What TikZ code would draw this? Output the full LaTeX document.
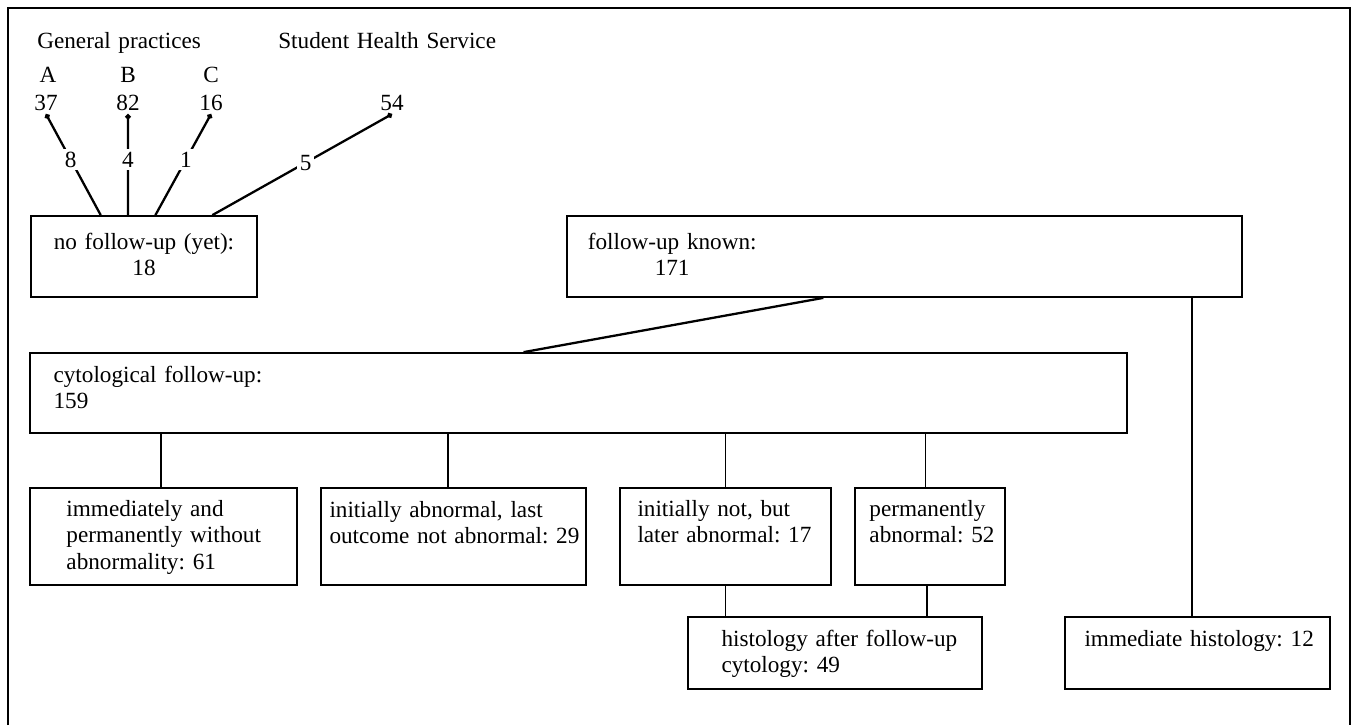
\documentclass[tikz,border=0pt]{standalone}
\usepackage{fontspec}
\setmainfont{Liberation Serif}
\usetikzlibrary{calc,arrows.meta}
\frenchspacing

\begin{document}
\begin{tikzpicture}[x=0.02cm,y=-0.02cm,
		font=\fontsize{13.2}{15.1}\selectfont,
		box/.style={draw,line width=1pt,inner sep=0},
		txt/.style={inner sep=0,anchor=base west,text width=8cm,align=left},
		ctxt/.style={inner sep=0,anchor=base,text width=6cm,align=center},
		link/.style={line width=1pt},
		feed/.style={line width=1.3pt,{Circle[length=3pt]}-},
		num/.style={fill=white,inner sep=1.5pt}]
		\useasboundingbox (0,0) rectangle (1356,725);

		% Frame
		\draw[line width=1pt] (8,725) -- (8,8) -- (1350,8) -- (1350,725);

		% Referring practices
		\node[txt] (gp) at (37,48) {General practices};
		\node[txt] (shs) at (278,48) {Student Health Service};
		\node[anchor=base] (pA) at (48,82) {A};
		\node[anchor=base] (pB) at (128,82) {B};
		\node[anchor=base] (pC) at (211,82) {C};
		\node[anchor=base,inner sep=2pt] (nA) at (46,110) {37};
		\node[anchor=base,inner sep=2pt] (nB) at (128,110) {82};
		\node[anchor=base,inner sep=2pt] (nC) at (211,110) {16};
		\node[anchor=base,inner sep=2pt] (nS) at (392,110) {54};

		% No follow-up / follow-up known
		\node[box,minimum width=4.52cm,minimum height=1.62cm] (nof) at (144,256.5) {};
		\node[ctxt] (nofT) at ($(nof.north)+(0,34)$) {no follow-up (yet):\\18};
		\node[box,minimum width=13.5cm,minimum height=1.62cm] (kno) at (904.5,256.5) {};
		\node[ctxt] (knoT) at ($(kno.north west)+(106,34)$) {follow-up known:\\171};

		\draw[feed] (nA.south) -- node[num,pos=0.45]{8} ($(nof.north west)!0.31!(nof.north east)$);
		\draw[feed] (nB.south) -- node[num,pos=0.45]{4} ($(nof.north west)!0.43!(nof.north east)$);
		\draw[feed] (nC.south) -- node[num,pos=0.45]{1} ($(nof.north west)!0.55!(nof.north east)$);
		\draw[feed] (nS.south) -- node[num,pos=0.48]{5} ($(nof.north west)!0.80!(nof.north east)$);

		% Cytological follow-up
		\node[box,minimum width=21.94cm,minimum height=1.6cm] (cyt) at (578.5,393) {};
		\node[txt] (cytT) at ($(cyt.north west)+(24,30)$) {cytological follow-up:\\159};
		\draw[line width=1.3pt] ($(kno.south west)!0.38!(kno.south east)$) -- ($(cyt.north west)!0.45!(cyt.north east)$);

		% Outcomes
		\node[box,minimum width=5.34cm,minimum height=1.94cm] (b1) at (163.5,536.5) {};
		\node[box,minimum width=5.3cm,minimum height=1.94cm] (b2) at (453.5,536.5) {};
		\node[box,minimum width=4.22cm,minimum height=1.94cm] (b3) at (725.5,536.5) {};
		\node[box,minimum width=3cm,minimum height=1.94cm] (b4) at (930,536.5) {};
		\node[txt] (b1T) at ($(b1.north west)+(37,29)$) {immediately and\\permanently without\\abnormality: 61};
		\node[txt] (b2T) at ($(b2.north west)+(9,30)$) {initially abnormal, last\\outcome not abnormal: 29};
		\node[txt] (b3T) at ($(b3.north west)+(18,29)$) {initially not, but\\later abnormal: 17};
		\node[txt] (b4T) at ($(b4.north west)+(15,29)$) {permanently\\abnormal: 52};
		\foreach \b/\f in {b1/0.49,b2/0.48,b3/0.5,b4/0.47}
			\draw[link] ($(\b.north west)!\f!(\b.north east)$) coordinate (top-\b)
				(top-\b |- cyt.south) -- (top-\b);

		% Histology
		\node[box,minimum width=5.88cm,minimum height=1.44cm] (b5) at (835,653) {};
		\node[box,minimum width=5.3cm,minimum height=1.44cm] (b6) at (1197.5,653) {};
		\node[txt] (b5T) at ($(b5.north west)+(34,30)$) {histology after follow-up\\cytology: 49};
		\node[txt] (b6T) at ($(b6.north west)+(20,30)$) {immediate histology: 12};
		\draw[link] (b3.south) -- (b3.south |- b5.north);
		\draw[link] ($(b4.south west)!0.48!(b4.south east)$) coordinate (bot-b4)
			(bot-b4) -- (bot-b4 |- b5.north);
		\draw[link] ($(b6.north west)!0.48!(b6.north east)$) coordinate (top-b6)
			(top-b6 |- kno.south) -- (top-b6);
	\end{tikzpicture}
\end{document}
